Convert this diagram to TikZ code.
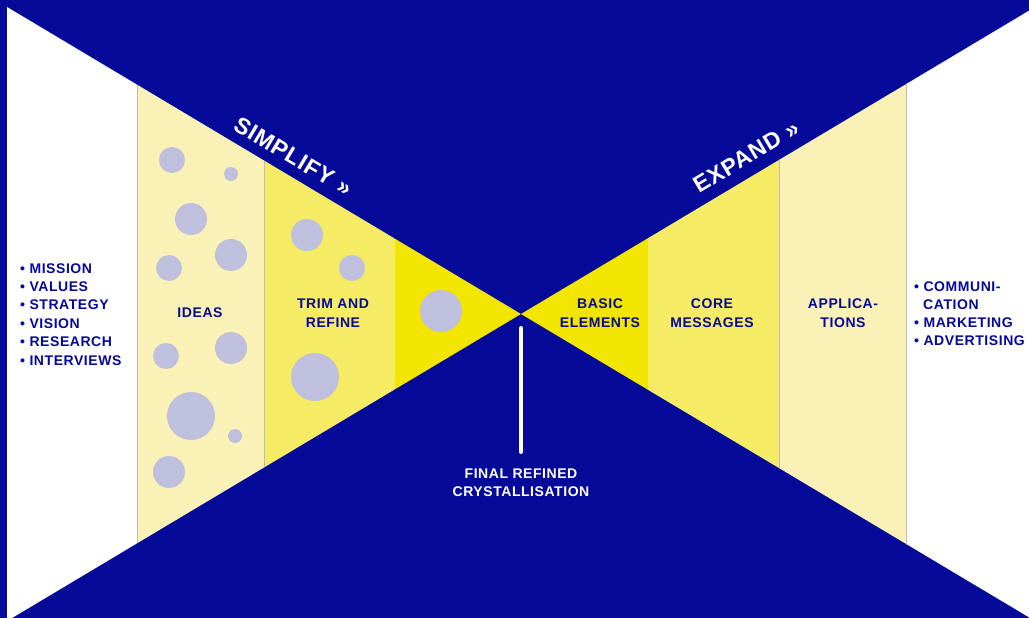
\documentclass[tikz,border=0pt]{standalone}
\usepackage{fontspec}
\setmainfont{Liberation Sans}
\newfontfamily\widesans[LetterSpace=4]{Liberation Sans}

\definecolor{navy}{RGB}{5,10,152}
\definecolor{paleyellow}{RGB}{250,241,182}
\definecolor{midyellow}{RGB}{245,235,100}
\definecolor{brightyellow}{RGB}{242,229,0}
\definecolor{bubblecol}{RGB}{190,192,222}
\definecolor{divider}{RGB}{190,186,185}

\begin{document}
\begin{tikzpicture}[x=1pt,y=-1pt,
    bandtext/.style={font=\widesans\fontsize{14}{18.4}\selectfont\bfseries, text=navy, align=center, inner sep=0pt},
    listitem/.style={font=\widesans\fontsize{14}{18.4}\selectfont\bfseries, text=navy, anchor=base west, inner sep=0pt},
    slogan/.style={font=\widesans\fontsize{23}{23}\selectfont\bfseries, text=white, anchor=base west, inner sep=0pt},
    bubble/.style={fill=bubblecol},
    stem/.style={white, line width=4pt, line cap=round}]

            \useasboundingbox (0,0) rectangle (1029,618);

            %---------------- FONDO ----------------
            \fill[navy] (0,0) rectangle (1029,618);
            \coordinate (apex) at (521,314);

            %---------------- EMBUDO IZQUIERDO ----------------
            \begin{scope}
                \clip (7,7) -- (apex) -- (7,621) -- cycle;
                \foreach \xa/\xb/\col in {7/137/white, 137/264/paleyellow,
                                          264/395/midyellow, 395/522/brightyellow}
                    \fill[\col] (\xa,0) rectangle (\xb,621);
                \draw[divider] (137,0) -- (137,621) (264,0) -- (264,621);
            \end{scope}

            %---------------- EMBUDO DERECHO ----------------
            \begin{scope}
                \clip (1029,10.7) -- (apex) -- (1029,617.3) -- cycle;
                \foreach \xa/\xb/\col in {520/648/brightyellow, 648/779/midyellow,
                                          779/906/paleyellow, 906/1029/white}
                    \fill[\col] (\xa,0) rectangle (\xb,621);
                \draw[divider] (779,0) -- (779,621) (906,0) -- (906,621);
            \end{scope}

            %---------------- BURBUJAS ----------------
            \foreach \cx/\cy/\r in {172/160/13, 231/174/7, 191/219/16, 231/255/16,
                                    169/268/13, 166/356/13, 231/348/16, 191/416/24,
                                    235/436/7, 169/472/16, 307/235/16, 352/268/13,
                                    315/377/24, 441/311/21}
                \fill[bubble] (\cx,\cy) circle[radius=\r];

            %---------------- TITULOS ----------------
            \node[slogan, rotate=-30.8] (simplify) at (232,129) {SIMPLIFY »};
            \node[slogan, rotate=30.8] (expand) at (699,194) {EXPAND »};

            %---------------- ETIQUETAS ----------------
            \node[bandtext] (ideas) at (200,313) {IDEAS};
            \node[bandtext] (trim) at (333,313) {TRIM AND\\REFINE};
            \node[bandtext] (basic) at (600,313) {BASIC\\ELEMENTS};
            \node[bandtext] (core) at (712,313) {CORE\\MESSAGES};
            \node[bandtext] (apps) at (843,313) {APPLICA-\\TIONS};

            %---------------- LISTAS ----------------
            \foreach \word [count=\i] in {MISSION,VALUES,STRATEGY,VISION,RESEARCH,INTERVIEWS}
                \node[listitem] (in\i) at (20,{273+18.4*(\i-1)}) {•\ \word};

            \node[listitem] (out1) at (914,291) {•\ COMMUNI-};
            \node[listitem] (out1b) at (923,309) {CATION};
            \node[listitem] (out2) at (914,327) {•\ MARKETING};
            \node[listitem] (out3) at (914,345) {•\ ADVERTISING};

            %---------------- CRISTALIZACION ----------------
            \coordinate (stemtop) at (521,328);
            \coordinate (stembot) at (521,452);
            \draw[stem] (stemtop) -- (stembot);
            \node[bandtext, text=white] (final) at (521,483) {FINAL REFINED\\CRYSTALLISATION};

\end{tikzpicture}
\end{document}
